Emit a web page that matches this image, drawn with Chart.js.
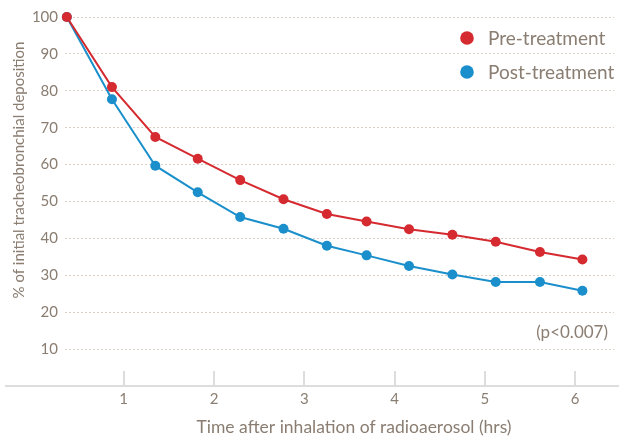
<!DOCTYPE html>
<html>
<head>
<meta charset="utf-8">
<script src="https://cdn.jsdelivr.net/npm/chart.js@4"></script>
<style>
  html, body { margin: 0; padding: 0; background: #fff; }
  #wrap { width: 619px; height: 437px; position: relative; }
</style>
</head>
<body>
<div id="wrap"><canvas id="myChart" width="619" height="437"></canvas></div>
<script>
// values
const hours = [0.37, 0.87, 1.35, 1.82, 2.29, 2.77, 3.25, 3.69, 4.16, 4.64, 5.12, 5.61, 6.08];
const preTreatment = [100, 81.0, 67.5, 61.6, 55.8, 50.6, 46.6, 44.6, 42.5, 41.0, 39.1, 36.3, 34.3];
const postTreatment = [100, 77.7, 59.7, 52.5, 45.8, 42.6, 38.0, 35.4, 32.5, 30.2, 28.2, 28.2, 25.8];
const seriesLabels = ['Pre-treatment', 'Post-treatment'];
const xTickValues = [1, 2, 3, 4, 5, 6];
const xTitle = 'Time after inhalation of radioaerosol (hrs)';
const yTitle = '% of initial tracheobronchial deposition';
const note = '(p<0.007)';

const RED = '#d42a30';
const BLUE = '#1a8fcb';
const TEXT = '#8a7d71';
const FONT = 'Lato, "Open Sans", sans-serif';

function pts(vals) {
  return vals.map((v, i) => ({ x: hours[i], y: v }));
}

// axis line, upward tick marks, titles, legend and note
const extras = {
  id: 'extras',
  afterDraw(chart) {
    const ctx = chart.ctx;
    const xs = chart.scales.x, ys = chart.scales.y;
    const y0 = ys.getPixelForValue(0);
    ctx.save();
    ctx.strokeStyle = '#dddddd';
    ctx.lineWidth = 2;
    ctx.beginPath();
    ctx.moveTo(5, y0);
    ctx.lineTo(chart.width, y0);
    ctx.stroke();
    xs.ticks.forEach(t => {
      const px = Math.round(xs.getPixelForValue(t.value));
      ctx.beginPath();
      ctx.moveTo(px, y0 - 15);
      ctx.lineTo(px, y0);
      ctx.stroke();
    });

    ctx.fillStyle = TEXT;
    ctx.textAlign = 'center';
    ctx.textBaseline = 'middle';
    ctx.font = '17.5px ' + FONT;
    ctx.fillText(xTitle, 354, 427);
    ctx.save();
    ctx.translate(19, 170);
    ctx.rotate(-Math.PI / 2);
    ctx.font = '15px ' + FONT;
    ctx.fillText(yTitle, 0, 0);
    ctx.restore();

    ctx.textAlign = 'right';
    ctx.font = '17px ' + FONT;
    ctx.fillText(note, 608, 333);

    // legend
    ctx.textAlign = 'left';
    ctx.font = '19px ' + FONT;
    chart.data.datasets.forEach((ds, i) => {
      const cy = 38 + i * 34;
      ctx.fillStyle = ds.borderColor;
      ctx.beginPath();
      ctx.arc(467, cy, 6.8, 0, Math.PI * 2);
      ctx.fill();
      ctx.fillStyle = TEXT;
      ctx.fillText(ds.label, 488, cy + 1);
    });
    ctx.restore();
  }
};

new Chart(document.getElementById('myChart').getContext('2d'), {
  type: 'line',
  data: {
    datasets: [
      {
        label: seriesLabels[0],
        data: pts(preTreatment),
        borderColor: RED,
        backgroundColor: RED,
        borderWidth: 2,
        pointRadius: 5,
        pointBorderWidth: 0,
        clip: false,
      },
      {
        label: seriesLabels[1],
        data: pts(postTreatment),
        borderColor: BLUE,
        backgroundColor: BLUE,
        borderWidth: 2,
        pointRadius: 5,
        pointBorderWidth: 0,
        clip: false,
      },
    ],
  },
  options: {
    responsive: false,
    animation: false,
    layout: { padding: { top: 17, left: 0, right: 0, bottom: 0 } },
    plugins: { legend: { display: false }, tooltip: { enabled: false } },
    scales: {
      x: {
        type: 'linear',
        min: 0.35,
        max: 6.43,
        afterFit(scale) { scale.height = 51; },
        afterBuildTicks(scale) {
          scale.ticks = xTickValues.map(v => ({ value: v }));
        },
        grid: { display: false, drawTicks: false },
        border: { display: false },
        ticks: { padding: 4, color: TEXT, font: { family: FONT, size: 15 } },
      },
      y: {
        min: 0,
        max: 100,
        afterFit(scale) { scale.width = 65; },
        grid: {
          drawTicks: false,
          color: c => (c.tick && c.tick.value === 0 ? 'rgba(0,0,0,0)' : '#d9cfc4'),
          lineWidth: 1,
        },
        border: { display: false, dash: [2, 2] },
        ticks: {
          stepSize: 10,
          padding: 7,
          color: TEXT,
          font: { family: FONT, size: 15 },
          callback: v => (v === 0 ? '' : v),
        },
      },
    },
  },
  plugins: [extras],
});
</script>
</body>
</html>
